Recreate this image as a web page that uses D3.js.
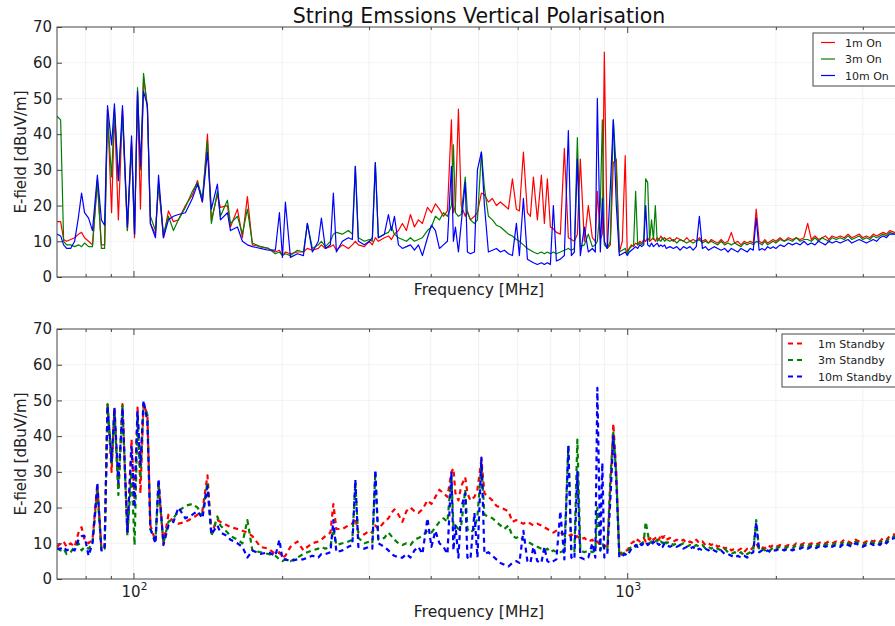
<!DOCTYPE html>
<html>
<head>
<meta charset="utf-8">
<script src="https://cdn.jsdelivr.net/npm/d3@7"></script>
<style>
  body { margin: 0; background: #fff; overflow: hidden; }
  svg { display: block; font-family: "DejaVu Sans", sans-serif; }
</style>
</head>
<body>
<script>
// Frequency sweep [MHz], shared by all six traces
const freq = [
  70, 71.2, 72.2, 73.2, 74.6, 76.0, 77.4, 78.5, 79.6, 81.1,
  82.6, 84.5, 86.1, 87.4, 88.6, 90.3, 91.5, 93.2, 95.0, 97.2,
  99.1, 100.5, 101.9, 103.3, 104.8, 106.7, 108.2, 110.8, 112.4, 115.0,
  117.7, 120.5, 123.3, 127.4, 131.6, 134.8, 137.9, 141.2, 143.8, 147.9,
  150.0, 155.0, 157.2, 162.4, 166.2, 170.1, 174.1, 180.7, 187.6, 193.8,
  197.5, 200.3, 203.1, 207.9, 214.8, 220.9, 225.0, 230.3, 236.8, 240.2,
  244.7, 250.5, 254.0, 257.6, 264.9, 272.4, 277.5, 281.4, 285.4, 293.5,
  300.4, 304.6, 308.9, 313.3, 322.2, 328.4, 333.0, 337.7, 344.1, 350.5,
  357.1, 363.9, 370.7, 377.7, 384.8, 393.9, 401.3, 408.8, 416.5, 424.4,
  432.4, 440.5, 444.6, 448.8, 455.1, 461.1, 469.8, 474.6, 481.3, 490.4,
  497.3, 506.6, 513.8, 523.4, 533.3, 543.3, 553.5, 563.9, 574.6, 585.4,
  596.4, 604.8, 616.2, 627.8, 636.6, 645.6, 657.7, 670.1, 679.5, 689.1,
  698.8, 708.6, 718.6, 732.1, 745.9, 759.9, 770.6, 781.5, 792.5, 803.6,
  818.7, 834.1, 849.8, 861.8, 869.9, 882.1, 890.4, 898.7, 911.3, 924.2,
  937.2, 950.4, 963.8, 977.4, 990.7,
  1000, 1010, 1020, 1030, 1040, 1050, 1060, 1070, 1080, 1090,
  1100, 1110, 1120, 1130, 1140, 1150, 1160, 1170, 1180, 1190,
  1200, 1220, 1240, 1260, 1280, 1300, 1320, 1340, 1360, 1380,
  1400, 1420, 1440, 1460, 1480, 1500, 1525, 1550, 1575, 1600,
  1625, 1650, 1675, 1700, 1725, 1750, 1775, 1800, 1825, 1850,
  1875, 1900, 1925, 1950, 1975, 2000, 2040, 2080, 2120, 2160,
  2200, 2240, 2280, 2320, 2360, 2400, 2440, 2480, 2520, 2560,
  2600, 2650, 2700, 2750, 2800, 2850, 2900, 2950, 3000, 3050,
  3100, 3150, 3200, 3250, 3300, 3350, 3400, 3475, 3550, 3625,
  3700, 3775
];

// E-field [dBuV/m], device on
const on1m = [
  15.5, 15.5, 10.5, 10, 10.5, 11, 12, 12.5, 11, 10,
  9, 27, 9, 9, 47, 18, 46, 16, 47, 13,
  38, 11, 51, 19, 56, 48, 15, 12, 26, 11,
  18.5, 15.5, 16, 20, 23, 27, 21, 40, 16, 23,
  19.5, 20, 14, 19, 11, 22.5, 9, 8.5, 8, 7,
  7.5, 6, 7, 6.5, 7, 7, 8, 7.5, 8, 9,
  8, 8.5, 9, 7.5, 9, 8, 9, 10, 9, 8.5,
  10, 9, 11, 10, 11, 11.5, 10.5, 12, 13, 15,
  13, 17.5, 14, 16, 15, 19.5, 18, 20.5, 19, 17,
  18.5, 44, 18, 20, 47, 20, 17, 18.5, 16, 17,
  18, 23.5, 23, 21, 22, 20, 21, 20, 19, 27.5,
  19, 18.5, 35, 18, 17, 28, 16, 28.5, 15, 27.5,
  14, 13.5, 12.5, 12, 36, 11, 10.5, 10, 12, 33,
  10, 20, 11, 10, 24, 10.5, 12, 63, 8, 9,
  32, 33, 7, 10, 34,
  7, 8, 9, 8.5, 9.5, 9, 10, 9.5, 10.5, 10,
  11, 10, 10.5, 11, 10, 11, 10.5, 11.5, 10.5, 11,
  10.5, 11, 10, 11, 10.5, 10, 11, 10, 10.5, 10,
  11, 10, 10.5, 9.5, 10.5, 10, 9.5, 10.5, 9.5, 10,
  12.5, 9.5, 10, 9, 10, 9.5, 10, 9.5, 19, 10,
  9.5, 10.5, 9.5, 10, 10.5, 10, 11, 10, 11, 10.5,
  11, 10.5, 11, 15, 10.5, 11.5, 10.5, 11, 11.5, 10.5,
  11.5, 11, 11.5, 11, 12, 11, 11.5, 12, 11, 11.5,
  11, 12, 11.5, 12, 12.5, 12, 13, 12.5, 13, 12.5,
  13, 12.5
];
const on3m = [
  45, 44, 10, 9, 9, 8.5, 9, 8.5, 9.5, 8.5,
  8.5, 27, 8, 8, 45, 28, 47, 27, 45, 13,
  37, 12, 53, 30, 57, 47, 17, 13, 26, 12,
  17, 13, 16, 19.5, 24, 26.5, 22, 38, 15, 24,
  17, 21.5, 15, 17, 12, 19, 9.5, 8.5, 8, 6.5,
  7, 6, 6.5, 6, 7.5, 7, 15, 8, 9, 10,
  8.5, 10, 12, 12.5, 12, 13, 12, 31, 11, 10,
  10.5, 10, 32, 11, 12, 12.5, 14, 12, 11, 10.5,
  10, 11, 10, 10.5, 11, 13, 14, 17, 16, 18,
  17, 20, 37, 18, 17, 17.5, 28, 18, 16, 15,
  16, 35, 25, 17, 16, 14.5, 14, 13, 12, 11.5,
  10.5, 10, 9, 8, 7.5, 7, 6.5, 7, 6.5, 7,
  6.5, 7, 6.5, 7, 7.5, 8, 7.5, 8, 39, 8.5,
  9, 12, 8.5, 9, 10, 20, 44, 9, 8, 10,
  44, 30, 7, 7.5, 8,
  6.5, 8, 8.5, 9, 24, 9, 9.5, 9, 10, 27.5,
  26.5, 10, 16, 10.5, 20, 10, 10.5, 10, 11, 10,
  10.5, 10, 10.5, 9.5, 10.5, 10, 9.5, 10, 9.5, 10,
  10.5, 9.5, 10, 9.5, 10, 9.5, 9, 10, 9, 9.5,
  9, 9.5, 9, 8.5, 9.5, 9, 9.5, 9, 10, 9.5,
  9, 10, 9, 9.5, 10, 9.5, 10.5, 10, 10.5, 10,
  11, 10, 10.5, 10.5, 10, 11, 10, 11, 10.5, 10,
  11, 10.5, 11, 10.5, 11.5, 10.5, 11, 11.5, 10.5, 11,
  10.5, 11.5, 11, 11.5, 12, 11.5, 12.5, 12, 12.5, 12,
  12.5, 12
];
const on10m = [
  12, 11.5, 9, 8, 8, 10, 17, 23.5, 18, 16.5,
  13, 28.5, 16, 14.5, 48, 37, 48.5, 27, 48, 14,
  39.5, 12, 52, 31, 52, 48, 15, 11, 28.5, 11,
  16, 17, 17.5, 18, 22, 26, 21, 35, 19, 26,
  16, 18, 13, 14, 10, 9, 8.5, 8, 7.5, 7.5,
  18, 5.5, 21, 5.5, 6.5, 6, 15, 7, 10, 16.5,
  8, 9, 23.5, 7, 10, 11, 10.5, 31, 10, 9,
  10, 11, 32, 11, 12, 17.5, 13, 17, 9, 8,
  8.5, 9, 7.5, 9, 6, 11, 14.5, 13, 8, 9,
  10, 31, 10, 14, 7, 15, 26.5, 7, 6.5, 7,
  30, 35, 20, 7, 7.5, 8, 7, 7.5, 6.5, 6,
  15, 6, 22, 5, 4.5, 4, 3.5, 4, 3.5, 4,
  3.5, 20, 4.5, 5, 6, 41, 6, 7, 33, 6,
  14, 7, 8, 7, 50, 7, 22, 10, 8, 25,
  44, 20, 6, 6.5, 7,
  6, 7, 7.5, 8, 8.5, 8, 9, 8.5, 9, 20,
  9, 8.5, 9.5, 8.5, 9, 9.5, 8.5, 9, 8.5, 9,
  8, 8.5, 8, 8.5, 7.5, 8.5, 8, 8.5, 7.5, 8.5,
  17, 8, 8.5, 7.5, 8, 8.5, 8, 7.5, 8, 7,
  8, 7.5, 7, 8, 7.5, 7, 8, 7.5, 16.5, 7.5,
  8, 7.5, 8.5, 8, 8.5, 8, 9, 8.5, 9.5, 9,
  9.5, 9, 10, 9, 9.5, 9, 10, 9.5, 9, 10,
  9.5, 10, 9.5, 10, 10.5, 9.5, 10, 10.5, 10, 9.5,
  10, 10.5, 10, 11, 11.5, 11, 12, 12, 12.5, 12,
  12.5, 12
];

// E-field [dBuV/m], device on standby
const sb1m = [
  9, 10, 10.5, 9, 10, 9, 13, 14.5, 11, 10,
  11, 26, 8.5, 9, 49, 30, 48, 25, 49, 13,
  39, 22, 48, 24, 49, 46, 15, 10.5, 27, 10,
  18, 16, 15.5, 16, 17, 18, 19, 29, 13, 16.5,
  16, 15, 14.5, 14, 13.5, 13, 12, 9, 8.5, 7,
  7.5, 6, 6.5, 9, 10.5, 8, 9, 10, 10.5, 11,
  12, 13, 21, 14, 14, 15, 15.5, 17, 13, 12.5,
  13.5, 13, 15, 14, 16, 17, 18.5, 19.5, 18, 16,
  19, 20, 19, 18.5, 19.5, 22, 21, 23, 25, 24,
  23, 30, 31, 24, 22, 26, 28.5, 24, 22, 23,
  25, 33.5, 24, 23, 22, 20.5, 20, 19.5, 19, 16,
  16.5, 16, 15.5, 16, 15.5, 15, 15.5, 15, 14.5, 14,
  13.5, 13, 13.5, 13, 12.5, 12, 12.5, 11.5, 12, 11,
  11.5, 10.5, 11, 10, 10.5, 9.5, 9, 9.5, 8.5, 25,
  43.5, 30, 7, 7.5, 8,
  8, 9, 10, 10.5, 10, 11, 10.5, 11, 11.5, 10.5,
  11.5, 11, 12, 11, 11.5, 12, 11, 12.5, 11.5, 12,
  11, 11.5, 10.5, 11, 10.5, 11, 10, 10.5, 10, 11,
  10, 10.5, 9.5, 10, 9.5, 10, 9, 9.5, 8.5, 9,
  8, 8.5, 8, 8.5, 7.5, 8.5, 8, 9, 10, 8.5,
  9, 8.5, 9.5, 9, 9.5, 9, 9.5, 9, 9.5, 9,
  10, 9.5, 10, 9.5, 10, 9.5, 10, 10.5, 10, 10.5,
  10, 10.5, 10, 11, 10.5, 10, 11, 10.5, 10, 10.5,
  11, 10.5, 11, 10.5, 11.5, 11, 12, 12.5, 12, 12.5,
  12, 12.5
];
const sb3m = [
  8.5, 8, 8.5, 7, 7.5, 9, 10, 8, 9, 8.5,
  10, 25, 8, 8.5, 49, 32, 47, 23.5, 48.5, 12,
  30, 9.5, 45, 28, 49, 46, 14, 11, 26, 10,
  16, 17, 19, 20.5, 21, 20, 18, 27, 12, 17.5,
  15, 13, 12, 11, 10, 16.5, 8, 7.5, 7, 6.5,
  5.5, 5, 5.5, 5, 6, 7, 7.5, 8, 8.5, 9,
  8.5, 9, 14, 9.5, 10, 10.5, 11, 27, 11.5, 10,
  10.5, 10, 30, 11, 11.5, 13, 12, 11, 10, 9.5,
  10, 9.5, 11, 11.5, 12, 13.5, 13, 14.5, 16, 17,
  16, 29, 14.5, 15, 14, 15, 25, 14, 13, 14,
  17.5, 32, 18, 17.5, 17, 16, 15, 14, 15, 12,
  11.5, 12, 11, 10.5, 10, 9.5, 9, 8.5, 8, 8.5,
  7.5, 8, 7.5, 7.5, 8, 37, 8, 7.5, 39, 8,
  7.5, 8, 7.5, 8, 20, 8, 10, 8.5, 8, 28,
  41, 29, 6.5, 7, 7.5,
  7.5, 8.5, 9, 9.5, 9, 10, 9.5, 10, 10.5, 16,
  13, 10, 10.5, 10, 10.5, 11, 10, 10.5, 10, 11,
  10, 10.5, 9.5, 10, 9.5, 10, 9, 9.5, 9, 9.5,
  9, 9.5, 8.5, 9, 8.5, 9, 8.5, 8, 8.5, 7.5,
  7, 7.5, 7, 7.5, 6.5, 7, 7.5, 8, 16.5, 8,
  8.5, 8, 8.5, 8, 9, 8.5, 9, 8.5, 9, 8.5,
  9.5, 9, 9.5, 9, 9.5, 9, 9.5, 10, 9.5, 10,
  9.5, 10, 9.5, 10.5, 10, 9.5, 10.5, 10, 9.5, 10,
  10.5, 10, 10.5, 10, 11, 10.5, 11.5, 12, 11.5, 12,
  11.5, 12
];
const sb10m = [
  8.5, 8.5, 9, 8, 8.5, 8, 11, 12, 12, 6.5,
  10, 27, 8, 8, 48.5, 33, 48, 27, 48, 13,
  37, 20, 47, 32, 50, 44, 14, 10, 28, 9.5,
  15, 16, 20, 17, 18, 19, 17, 26, 12.5, 15,
  13, 12, 11, 10, 9, 6, 8, 7, 7.5, 6.5,
  11, 5.5, 5.5, 5, 5.5, 5.5, 6, 6.5, 6, 7,
  7, 7.5, 16.5, 7.5, 8, 9, 9.5, 27.8, 9, 8.5,
  9, 8.5, 30.5, 10, 9, 8, 7, 6.5, 6, 6,
  7, 6, 8, 9, 7, 17, 9, 13.5, 10, 9,
  7, 30, 8, 15, 6, 20, 24, 6, 5.5, 18.5,
  6, 34, 7, 7.5, 6.5, 5.5, 4.5, 4, 3.5, 4.5,
  5, 4.5, 13.5, 5, 4.5, 9, 5, 4.5, 9, 5,
  4.5, 5, 5.5, 19, 5.5, 37.5, 6, 5.5, 30, 6,
  5.5, 6, 10, 6, 53.5, 8, 32.5, 6, 7, 22,
  40, 27, 6, 6.5, 7,
  6.5, 7.5, 8.5, 9, 9.5, 9, 10, 9.5, 10, 10.5,
  9.5, 10, 9.5, 10.5, 9.5, 10, 9.5, 10, 9, 10,
  9.5, 9, 9.5, 9, 9.5, 8.5, 9, 8.5, 9, 8,
  8.5, 8, 8.5, 8, 8.5, 8, 7.5, 8, 7, 7,
  6.5, 6, 6.5, 6, 6.5, 6, 7, 7.5, 16, 7.5,
  8, 7.5, 8, 7.5, 8, 8, 8.5, 8, 8.5, 8,
  8.5, 8.5, 9, 8.5, 9, 8.5, 9, 9.5, 9, 9.5,
  9, 9.5, 9, 10, 9.5, 9, 10, 9.5, 9, 9.5,
  10, 9.5, 10, 9.5, 10.5, 10, 11, 11.5, 11, 11.5,
  11, 11.5
];

const onNames = ['1m On', '3m On', '10m On'];
const sbNames = ['1m Standby', '3m Standby', '10m Standby'];
const colors = ['#ff0000', '#008000', '#0000ff'];
const yTicks = [0, 10, 20, 30, 40, 50, 60, 70];
const majorTicks = [100, 1000];
const minorTicks = [80, 90, 200, 300, 400, 500, 600, 700, 800, 900, 2000, 3000, 4000];
const majorLabels = ['2', '3'];

[on1m, on3m, on10m, sb1m, sb3m, sb10m].forEach((s, i) => {
  if (s.length !== freq.length) throw new Error('series ' + i + ' has ' + s.length + ' values, freq has ' + freq.length);
});

const width = 895, height = 626;
const left = 57, right = 940; // the plot runs past the right edge of the picture

const svg = d3.select('body').append('svg')
  .attr('width', width)
  .attr('height', height);

svg.append('rect').attr('width', width).attr('height', height).attr('fill', '#fff');

const x = d3.scaleLog().domain([70, 4300]).range([left, right]);

// title
svg.append('text')
  .attr('x', 479).attr('y', 23)
  .attr('text-anchor', 'middle')
  .attr('font-size', 20.5)
  .attr('fill', '#111')
  .text('String Emssions Vertical Polarisation');

function panel(opt) {
  const y = d3.scaleLinear().domain([0, 70]).range([opt.bottom, opt.top]);
  const g = svg.append('g');

  const clipId = 'clip-' + opt.top;
  svg.append('clipPath').attr('id', clipId)
    .append('rect')
    .attr('x', left).attr('y', opt.top)
    .attr('width', right - left).attr('height', opt.bottom - opt.top);

  // very faint grid
  g.append('g').selectAll('line')
    .data(yTicks.slice(1, -1))
    .join('line')
    .attr('x1', left).attr('x2', right)
    .attr('y1', d => y(d)).attr('y2', d => y(d))
    .attr('stroke', '#f3f3f3');
  g.append('g').selectAll('line')
    .data(majorTicks.concat(minorTicks))
    .join('line')
    .attr('x1', d => x(d)).attr('x2', d => x(d))
    .attr('y1', opt.top).attr('y2', opt.bottom)
    .attr('stroke', '#f1f1f1');

  // traces
  const line = d3.line()
    .x((d, i) => x(freq[i]))
    .y(d => y(d));

  g.append('g')
    .attr('clip-path', `url(#${clipId})`)
    .selectAll('path')
    .data(opt.series)
    .join('path')
    .attr('d', line)
    .attr('fill', 'none')
    .attr('stroke', (d, i) => colors[i])
    .attr('stroke-width', opt.dashed ? 2.2 : 1.2)
    .attr('stroke-dasharray', opt.dashed ? '5,4' : null)
    .attr('stroke-linejoin', 'round');

  // frame
  g.append('rect')
    .attr('x', left).attr('y', opt.top)
    .attr('width', right - left).attr('height', opt.bottom - opt.top)
    .attr('fill', 'none')
    .attr('stroke', '#444');

  // ticks, pointing inwards on all four sides
  const styleAxis = sel => {
    sel.select('.domain').remove();
    sel.selectAll('.tick line').attr('stroke', '#444');
    sel.selectAll('.tick text').attr('font-size', 15).attr('fill', '#222')
      .attr('font-family', '"DejaVu Sans", sans-serif');
  };

  g.append('g').attr('transform', `translate(${left},0)`)
    .call(d3.axisLeft(y).tickValues(yTicks).tickSize(-5).tickPadding(5))
    .call(styleAxis);
  g.append('g').attr('transform', `translate(${right},0)`)
    .call(d3.axisRight(y).tickValues(yTicks).tickSize(-5).tickFormat(''))
    .call(styleAxis);

  [[d3.axisBottom, opt.bottom], [d3.axisTop, opt.top]].forEach(([axis, pos]) => {
    g.append('g').attr('transform', `translate(0,${pos})`)
      .call(axis(x).tickValues(majorTicks).tickSize(-6).tickFormat(''))
      .call(styleAxis);
    g.append('g').attr('transform', `translate(0,${pos})`)
      .call(axis(x).tickValues(minorTicks).tickSize(-3).tickFormat(''))
      .call(styleAxis);
  });

  if (opt.xLabels) {
    const lbl = g.append('g').selectAll('text')
      .data(majorTicks)
      .join('text')
      .attr('x', d => x(d) + 1)
      .attr('y', opt.bottom + 18)
      .attr('text-anchor', 'middle')
      .attr('font-size', 15)
      .attr('fill', '#222');
    lbl.append('tspan').text('10');
    lbl.append('tspan').attr('dy', -7).attr('font-size', 10.5).text((d, i) => majorLabels[i]);
  }

  // axis titles
  g.append('text')
    .attr('x', 479).attr('y', opt.xTitleY)
    .attr('text-anchor', 'middle')
    .attr('font-size', 15.5)
    .attr('fill', '#222')
    .text('Frequency [MHz]');
  g.append('text')
    .attr('transform', `translate(26,${(opt.top + opt.bottom) / 2}) rotate(-90)`)
    .attr('text-anchor', 'middle')
    .attr('font-size', 15)
    .attr('fill', '#222')
    .text('E-field [dBuV/m]');

  // legend
  const lg = g.append('g').attr('transform', `translate(${opt.legend.x},${opt.legend.y})`);
  lg.append('rect')
    .attr('width', 140).attr('height', 53)
    .attr('fill', '#fff')
    .attr('stroke', '#444');
  opt.names.forEach((name, i) => {
    const ry = 9.5 + i * 16.5;
    lg.append('line')
      .attr('x1', opt.legend.line[0]).attr('x2', opt.legend.line[1])
      .attr('y1', ry).attr('y2', ry)
      .attr('stroke', colors[i])
      .attr('stroke-width', opt.dashed ? 2.2 : 1.2)
      .attr('stroke-dasharray', opt.dashed ? '5,4' : null);
    lg.append('text')
      .attr('x', opt.legend.text).attr('y', ry + 4)
      .attr('font-size', 11)
      .attr('fill', '#222')
      .text(name);
  });
}

panel({
  top: 27, bottom: 277,
  series: [on1m, on3m, on10m],
  names: onNames,
  dashed: false,
  xLabels: false,
  xTitleY: 295,
  legend: { x: 813, y: 33, line: [8, 22], text: 32 }
});

panel({
  top: 329, bottom: 579,
  series: [sb1m, sb3m, sb10m],
  names: sbNames,
  dashed: true,
  xLabels: true,
  xTitleY: 617,
  legend: { x: 782, y: 334, line: [6, 21], text: 36 }
});
</script>
</body>
</html>
